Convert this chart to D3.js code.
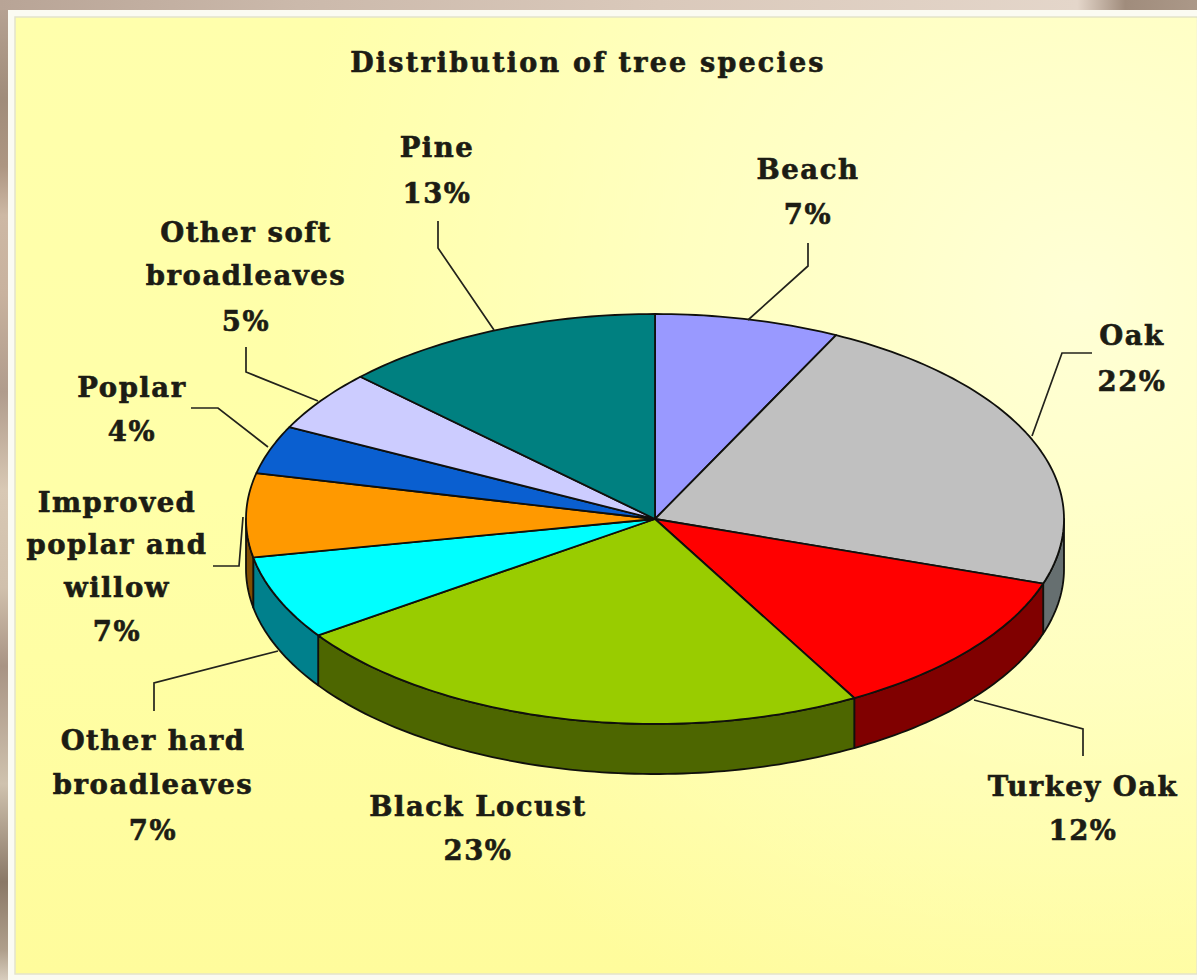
<!DOCTYPE html>
<html>
<head>
<meta charset="utf-8">
<script src="https://cdnjs.cloudflare.com/ajax/libs/d3/7.8.5/d3.min.js"></script>
<style>
  html, body { margin: 0; padding: 0; background: #fff; overflow: hidden; }
  text {
    font-family: "DejaVu Serif", serif;
    font-weight: bold;
    fill: #1c1c14;
    stroke: #1c1c14;
    stroke-width: 0.6px;
    letter-spacing: 1.5px;
  }
</style>
</head>
<body>
<svg id="chart" width="1197" height="980"></svg>
<script>
// Data
const species = ["Beach", "Oak", "Turkey Oak", "Black Locust", "Other hard broadleaves", "Improved poplar and willow", "Poplar", "Other soft broadleaves", "Pine"];
const printedPercent = [7, 22, 12, 23, 7, 7, 4, 5, 13];
// Slice sizes measured on the drawing (the printed labels are rounded)
const sliceShare = [7.3, 22.8, 11.8, 23.5, 6.6, 6.6, 3.8, 4.8, 12.8];
const labelLines = [["Beach"], ["Oak"], ["Turkey Oak"], ["Black Locust"], ["Other hard", "broadleaves"], ["Improved", "poplar and", "willow"], ["Poplar"], ["Other soft", "broadleaves"], ["Pine"]];

// Colors
const topColors = ["#9999ff", "#c0c0c0", "#ff0000", "#99cc00", "#00ffff", "#ff9900", "#0a5fd0", "#ccccff", "#008080"];
const wallColors = ["#4d4d80", "#666f70", "#800000", "#4d6600", "#00808c", "#804d00", "#003380", "#666680", "#004040"];

// Label layout: centre x and baseline of every text line
const labelX = [808, 1132, 1083, 478, 153, 117, 132, 246, 437];
const labelY = [
  [179, 224], [345, 391], [796, 840], [816, 860], [750, 794, 840],
  [512, 554, 597, 641], [397, 441], [242, 285, 331], [157, 203],
];
const leaders = [
  [[808, 243], [808, 266], [748, 320]],
  [[1092, 353], [1062, 353], [1032, 436]],
  [[1083, 756], [1083, 729], [974, 700]],
  [],
  [[154, 711], [154, 683], [278, 651]],
  [[213, 566], [239, 566], [243, 517]],
  [[191, 408], [218, 408], [268, 447]],
  [[246, 347], [246, 372], [318, 401]],
  [[438, 221], [438, 248], [494, 330]],
];

const WIDTH = 1197;
const HEIGHT = 980;
const PIE_CX = 655;
const PIE_CY = 519;
const PIE_RX = 409;
const PIE_RY = 205;
const PIE_DEPTH = 50;
const FONT_SIZE = "27.5px";

const svg = d3.select("#chart");
const defs = svg.append("defs");

// Background gradients
const addGradient = (id, dir, stops) => {
  const g = defs.append("linearGradient").attr("id", id)
    .attr("x1", 0).attr("y1", 0)
    .attr("x2", dir === "h" ? 1 : 0)
    .attr("y2", dir === "v" ? 1 : 0);
  stops.forEach(([o, c]) => g.append("stop").attr("offset", o).attr("stop-color", c));
};
addGradient("panelFill", "v", [[0, "#ffffac"], [0.5, "#ffffa8"], [1, "#fffc9c"]]);
addGradient("leftFrame", "v", [
  [0, "#b8a494"], [0.1, "#a08c7a"], [0.17, "#ad9682"], [0.22, "#cdb8a4"], [0.3, "#c8b29e"],
  [0.4, "#b09c8c"], [0.5, "#d8c8b4"], [0.6, "#d0c0ac"], [0.68, "#a89484"], [0.8, "#cfc2ae"],
  [0.9, "#8a7866"], [0.97, "#b0a08c"], [1, "#d8cdbd"],
]);
addGradient("topFrame", "h", [
  [0, "#b8a496"], [0.25, "#cbb9ab"], [0.55, "#dac9bb"], [0.9, "#e4d6ca"], [0.94, "#a08c7c"], [1, "#ab9888"],
]);
const glow = defs.append("radialGradient").attr("id", "panelGlow")
  .attr("gradientUnits", "userSpaceOnUse")
  .attr("cx", 1080).attr("cy", 300).attr("r", 800);
glow.append("stop").attr("offset", 0).attr("stop-color", "#ffffd6").attr("stop-opacity", 1);
glow.append("stop").attr("offset", 0.5).attr("stop-color", "#ffffd0").attr("stop-opacity", 0.6);
glow.append("stop").attr("offset", 1).attr("stop-color", "#ffffc8").attr("stop-opacity", 0);

svg.append("rect").attr("width", WIDTH).attr("height", HEIGHT).attr("fill", "#fbfbf2");
svg.append("rect").attr("width", 8).attr("height", HEIGHT).attr("fill", "url(#leftFrame)");
svg.append("rect").attr("width", WIDTH).attr("height", 10).attr("fill", "url(#topFrame)");
svg.append("rect").attr("x", 15).attr("y", 17).attr("width", WIDTH - 15).attr("height", 957).attr("fill", "url(#panelFill)").attr("stroke", "#e4e4cc").attr("stroke-width", 1.5);
svg.append("rect").attr("x", 16).attr("y", 18).attr("width", WIDTH - 16).attr("height", 955).attr("fill", "url(#panelGlow)");

// Scales map the unit circle onto the tilted ellipse
const xScale = d3.scaleLinear().domain([-1, 1]).range([PIE_CX - PIE_RX, PIE_CX + PIE_RX]);
const yScale = d3.scaleLinear().domain([-1, 1]).range([PIE_CY - PIE_RY, PIE_CY + PIE_RY]);
const rimPoint = (a) => [xScale(Math.sin(a)), yScale(-Math.cos(a))];
const arcPoints = (a0, a1) => {
  const n = Math.max(2, Math.ceil((a1 - a0) / 0.02));
  return d3.range(n + 1).map((i) => rimPoint(a0 + ((a1 - a0) * i) / n));
};
const pathLine = d3.line();

const slices = d3.pie().sort(null).value((d) => d)(sliceShare);

// Side walls, only the front half of the rim shows
const wallGroup = svg.append("g");
slices.forEach((s, i) => {
  const a0 = Math.max(s.startAngle, Math.PI / 2);
  const a1 = Math.min(s.endAngle, (3 * Math.PI) / 2);
  if (a1 <= a0) return;
  const upper = arcPoints(a0, a1);
  const lower = upper.map(([x, y]) => [x, y + PIE_DEPTH]).reverse();
  wallGroup.append("path")
    .attr("d", pathLine(upper.concat(lower)) + "Z")
    .attr("fill", wallColors[i])
    .attr("stroke", "#10100c")
    .attr("stroke-width", 1.8)
    .attr("stroke-linejoin", "round");
});

// Top face
svg.append("g").selectAll("path")
  .data(slices)
  .join("path")
  .attr("d", (s) => pathLine([[PIE_CX, PIE_CY]].concat(arcPoints(s.startAngle, s.endAngle))) + "Z")
  .attr("fill", (_, i) => topColors[i])
  .attr("stroke", "#10100c")
  .attr("stroke-width", 1.8)
  .attr("stroke-linejoin", "round");

// Leader lines
svg.append("g").selectAll("path")
  .data(leaders.filter((l) => l.length))
  .join("path")
  .attr("d", (l) => pathLine(l))
  .attr("fill", "none")
  .attr("stroke", "#23231c")
  .attr("stroke-width", 1.7);

// Title
svg.append("text")
  .attr("x", 588).attr("y", 72)
  .attr("text-anchor", "middle")
  .style("font-size", "27px")
  .style("letter-spacing", "2.2px")
  .text("Distribution of tree species");

// Labels
species.forEach((_, i) => {
  const lines = labelLines[i].concat(printedPercent[i] + "%");
  lines.forEach((line, j) => {
    svg.append("text")
      .attr("x", labelX[i])
      .attr("y", labelY[i][j])
      .attr("text-anchor", "middle")
      .style("font-size", FONT_SIZE)
      .text(line);
  });
});
</script>
</body>
</html>
